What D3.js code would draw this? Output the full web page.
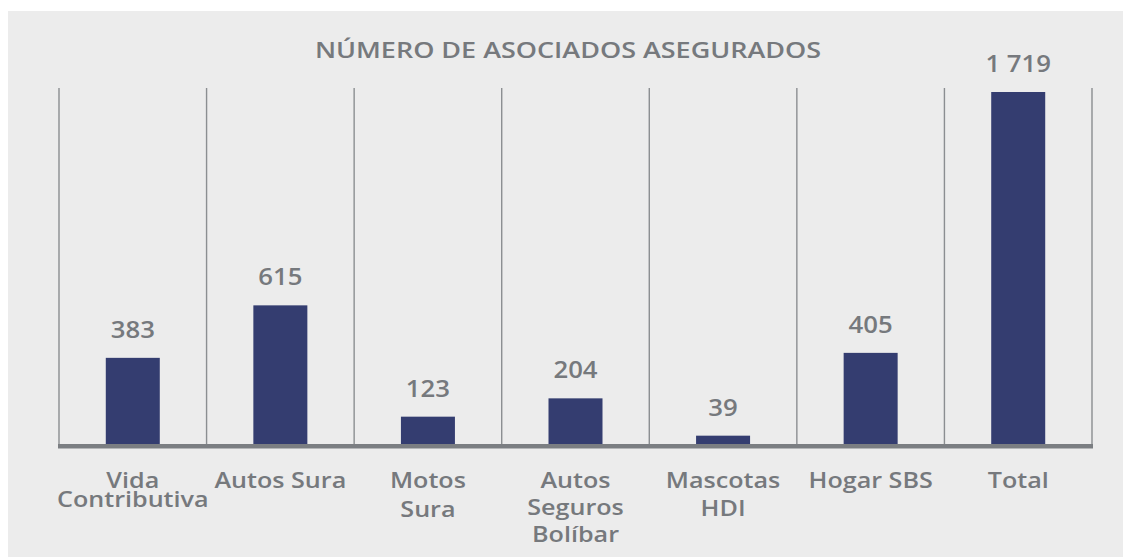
<!DOCTYPE html>
<html>
<head>
<meta charset="utf-8">
<script src="https://cdn.jsdelivr.net/npm/d3@7"></script>
<style>
  html, body { margin: 0; padding: 0; background: #ffffff; }
  svg { display: block; }
  text { font-family: "Open Sans", sans-serif; fill: #76797d; }
</style>
</head>
<body>
<svg id="chart" width="1123" height="557"></svg>
<script>
const title = "NÚMERO DE ASOCIADOS ASEGURADOS";
const categories = ["Vida Contributiva", "Autos Sura", "Motos Sura", "Autos Seguros Bolíbar", "Mascotas HDI", "Hogar SBS", "Total"];
const categoryLines = [["Vida", "Contributiva"], ["Autos Sura"], ["Motos", "Sura"], ["Autos", "Seguros", "Bolíbar"], ["Mascotas", "HDI"], ["Hogar SBS"], ["Total"]];
const values = [383, 615, 123, 204, 39, 405, 1719];
const valueLabels = ["383", "615", "123", "204", "39", "405", "1 719"];

const svg = d3.select("#chart");
const W = 1123, H = 557;

// panel background
svg.append("rect").attr("x", 8).attr("y", 11).attr("width", W - 8).attr("height", H - 11).attr("fill", "#ececec");

const plot = { left: 59, right: 1092, top: 88, bottom: 444.5, barTop: 92 };

const x = d3.scaleBand().domain(categories).range([plot.left, plot.right]).paddingInner(0).paddingOuter(0);
const y = d3.scaleLinear().domain([0, 1558]).range([plot.bottom, plot.barTop]).clamp(true);
const cx = c => x(c) + x.bandwidth() / 2;

// vertical separators
const seps = categories.map(c => x(c)).concat([plot.right]);
svg.append("g").selectAll("line").data(seps).join("line")
  .attr("x1", d => d).attr("x2", d => d)
  .attr("y1", plot.top).attr("y2", plot.bottom)
  .attr("stroke", "#8b8e91").attr("stroke-width", 1.4);

// bars
const barW = 54;
svg.append("g").selectAll("rect").data(values).join("rect")
  .attr("x", (d, i) => cx(categories[i]) - barW / 2)
  .attr("width", barW)
  .attr("y", d => y(d))
  .attr("height", d => y(0) - y(d))
  .attr("fill", "#343d70");

// baseline
svg.append("line").attr("x1", plot.left - 1).attr("x2", plot.right + 1)
  .attr("y1", plot.bottom + 1.5).attr("y2", plot.bottom + 1.5)
  .attr("stroke", "#7b7e82").attr("stroke-width", 4);
svg.append("line").attr("x1", plot.left - 1).attr("x2", plot.right + 1)
  .attr("y1", plot.bottom + 4).attr("y2", plot.bottom + 4)
  .attr("stroke", "#b4b6b8").attr("stroke-width", 1);

// value labels (font widened horizontally to mimic the reference's wide face)
svg.append("g").selectAll("text").data(values).join("text")
  .attr("transform", (d, i) => `translate(${cx(categories[i])},${y(d) - 20}) scale(1.12,1)`)
  .attr("text-anchor", "middle")
  .attr("font-size", 23).attr("font-weight", 600)
  .text((d, i) => valueLabels[i]);

// category labels
const lineH = [19, 27, 29, 27, 28, 27, 27];
const cg = svg.append("g").selectAll("text").data(categoryLines).join("text")
  .attr("transform", (d, i) => `translate(${cx(categories[i])},488) scale(1.17,1)`)
  .attr("text-anchor", "middle")
  .attr("font-size", 21.5).attr("font-weight", 600);
cg.each(function(lines, i) {
  const t = d3.select(this);
  lines.forEach((l, j) => {
    t.append("tspan").attr("x", 0)
      .attr("dy", j === 0 ? 0 : lineH[i]).text(l);
  });
});

// title
svg.append("text").attr("transform", "translate(568,58) scale(1.255,1)")
  .attr("text-anchor", "middle")
  .attr("font-size", 21.5).attr("font-weight", 600)
  .text(title);
</script>
</body>
</html>
